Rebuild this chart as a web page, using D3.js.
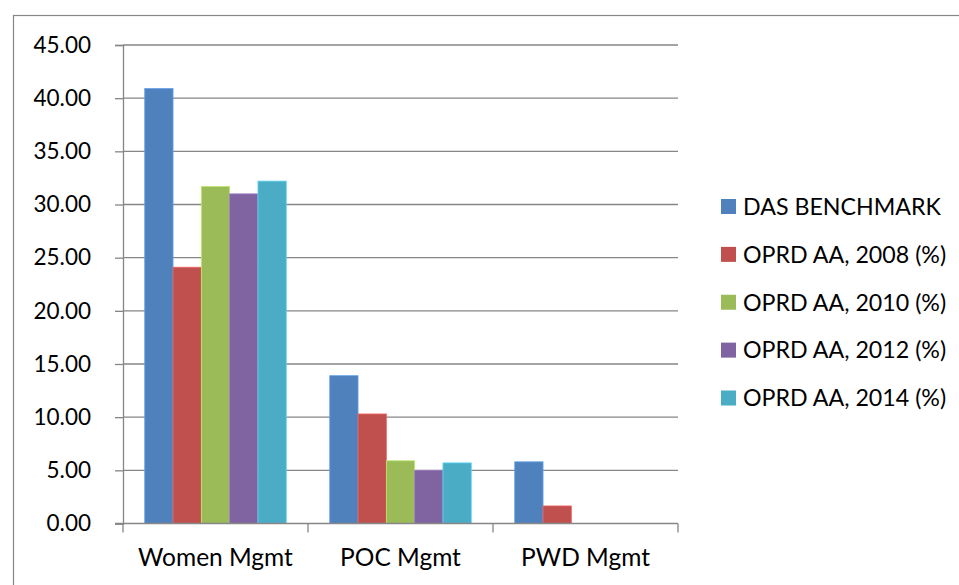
<!DOCTYPE html>
<html>
<head>
<meta charset="utf-8">
<script src="https://cdn.jsdelivr.net/npm/d3@7"></script>
<style>
  html, body { margin: 0; padding: 0; background: #fff; }
  svg text { font-family: Lato, "Open Sans", sans-serif; fill: #000; }
</style>
</head>
<body>
<svg id="chart" width="959" height="585"></svg>
<script>
// Categories and series
const categories = ["Women Mgmt", "POC Mgmt", "PWD Mgmt"];
const seriesNames = ["DAS BENCHMARK", "OPRD AA, 2008 (%)", "OPRD AA, 2010 (%)", "OPRD AA, 2012 (%)", "OPRD AA, 2014 (%)"];
const dasBenchmark = [40.9, 13.9, 5.8];
const oprd2008 = [24.1, 10.3, 1.65];
const oprd2010 = [31.7, 5.9, 0];
const oprd2012 = [31.0, 5.0, 0];
const oprd2014 = [32.2, 5.7, 0];
const yTicks = [0, 5, 10, 15, 20, 25, 30, 35, 40, 45];
const colors = ["#4F81BD", "#C0504D", "#9BBB59", "#8064A2", "#4BACC6"];

const seriesValues = [dasBenchmark, oprd2008, oprd2010, oprd2012, oprd2014];

const svg = d3.select("#chart");
const gridColor = "#868686";

// outer chart frame
svg.append("rect")
  .attr("x", 13.5).attr("y", 15.5)
  .attr("width", 980).attr("height", 600)
  .attr("fill", "none").attr("stroke", gridColor).attr("stroke-width", 1.2);

const plot = { left: 123, right: 678, top: 45, bottom: 523.5 };

const y = d3.scaleLinear().domain([0, 45]).range([plot.bottom, plot.top]);
const x0 = d3.scaleBand().domain(categories).range([plot.left, plot.right])
  .paddingInner(0.235).paddingOuter(0.1175);
const x1 = d3.scaleBand().domain(seriesNames).range([0, x0.bandwidth()]).padding(0);

// horizontal gridlines
svg.append("g").selectAll("line").data(yTicks.filter(d => d > 0)).join("line")
  .attr("x1", plot.left).attr("x2", plot.right)
  .attr("y1", d => y(d)).attr("y2", d => y(d))
  .attr("stroke", gridColor).attr("stroke-width", 1.3);

// bars
const groups = svg.append("g").selectAll("g").data(categories).join("g")
  .attr("transform", c => `translate(${x0(c)},0)`);
groups.selectAll("rect")
  .data((c, ci) => seriesNames.map((s, si) => ({ s, si, v: seriesValues[si][ci] })))
  .join("rect")
  .filter(d => d.v > 0)
  .attr("x", d => x1(d.s))
  .attr("y", d => y(d.v))
  .attr("width", x1.bandwidth())
  .attr("height", d => plot.bottom - y(d.v))
  .attr("fill", d => colors[d.si])
  .attr("stroke", d => d3.color(colors[d.si]).brighter(0.6))
  .attr("stroke-width", 0.8);

// y axis
const yAxis = svg.append("g").attr("transform", `translate(${plot.left},0)`)
  .call(d3.axisLeft(y).tickValues(yTicks).tickSize(8).tickPadding(24)
    .tickFormat(d3.format(".2f")));
yAxis.select(".domain").attr("stroke", gridColor).attr("stroke-width", 1.3);
yAxis.selectAll(".tick line").attr("stroke", gridColor).attr("stroke-width", 1.3);
yAxis.selectAll(".tick text").attr("font-size", 22.5).attr("font-family", "Lato, sans-serif").attr("fill", "#000");

// x axis
const xAxis = svg.append("g").attr("transform", `translate(0,${plot.bottom})`);
xAxis.append("line").attr("x1", plot.left - 8).attr("x2", plot.right)
  .attr("stroke", gridColor).attr("stroke-width", 1.3);
const catEdges = [plot.left].concat(categories.map(c => x0(c) + x0.bandwidth() + x0.step() * 0.1175));
xAxis.selectAll("line.ct").data(catEdges).join("line").attr("class", "ct")
  .attr("x1", d => d).attr("x2", d => d).attr("y1", 0).attr("y2", 9)
  .attr("stroke", gridColor).attr("stroke-width", 1.3);
xAxis.selectAll("text").data(categories).join("text")
  .attr("x", c => x0(c) + x0.bandwidth() / 2)
  .attr("y", 42)
  .attr("text-anchor", "middle")
  .attr("font-size", 24.5)
  .text(c => c);

// legend
const legend = svg.append("g").attr("transform", "translate(721,0)");
const rowY = d3.scalePoint().domain(seriesNames).range([206.5, 398]);
const items = legend.selectAll("g").data(seriesNames).join("g")
  .attr("transform", d => `translate(0,${rowY(d)})`);
items.append("rect").attr("x", 0).attr("y", -7.5).attr("width", 15).attr("height", 15)
  .attr("fill", (d, i) => colors[i]);
items.append("text").attr("x", 22).attr("y", 0).attr("dy", "0.36em")
  .attr("font-size", 23.2).text(d => d);
</script>
</body>
</html>
